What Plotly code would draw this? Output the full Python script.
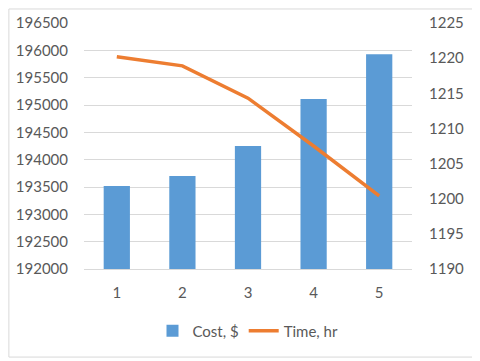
import plotly.graph_objects as go

periods = [1, 2, 3, 4, 5]
cost = [193520, 193700, 194250, 195110, 195930]
time_hr = [1220.2, 1218.9, 1214.3, 1207.5, 1200.4]

grey = '#595959'
grid = '#d9d9d9'

fig = go.Figure()
fig.add_trace(go.Bar(x=periods, y=cost, name='Cost, $', marker_color='#5b9bd5',
                     marker_line_width=0))
fig.add_trace(go.Scatter(x=periods, y=time_hr, name='Time, hr', yaxis='y2',
                         mode='lines', line=dict(color='#ed7d31', width=3.5)))

# page body has an 8px margin, so the figure is a bit smaller than the window
fig.update_layout(
    width=472, height=353,
    margin=dict(l=76, r=68, t=15, b=92),
    plot_bgcolor='white', paper_bgcolor='white',
    font=dict(family='Lato, Liberation Sans, sans-serif', size=15, color=grey),
    bargap=0.6,
    showlegend=True,
    legend=dict(orientation='h', x=0.5, xanchor='center', y=-0.185, yanchor='top',
                font=dict(size=15, color=grey)),
    xaxis=dict(tickmode='array', tickvals=periods, showgrid=False,
               showline=True, linecolor=grid, linewidth=1, ticks='',
               range=[0.5, 5.5], ticklabelstandoff=10, automargin=False),
    yaxis=dict(range=[192000, 196500], dtick=500, showgrid=True, gridcolor=grid,
               zeroline=False, ticks='', tickformat='d', ticklabelstandoff=15,
               automargin=False),
    yaxis2=dict(range=[1190, 1225], dtick=5, overlaying='y', side='right',
                showgrid=False, zeroline=False, ticks='', ticklabelstandoff=16,
                automargin=False),
    shapes=[dict(type='rect', xref='paper', yref='paper',
                 x0=-0.229, x1=1.198, y0=-0.358, y1=1.057,
                 line=dict(color=grid, width=1))],
)

fig.write_html('out.html')
